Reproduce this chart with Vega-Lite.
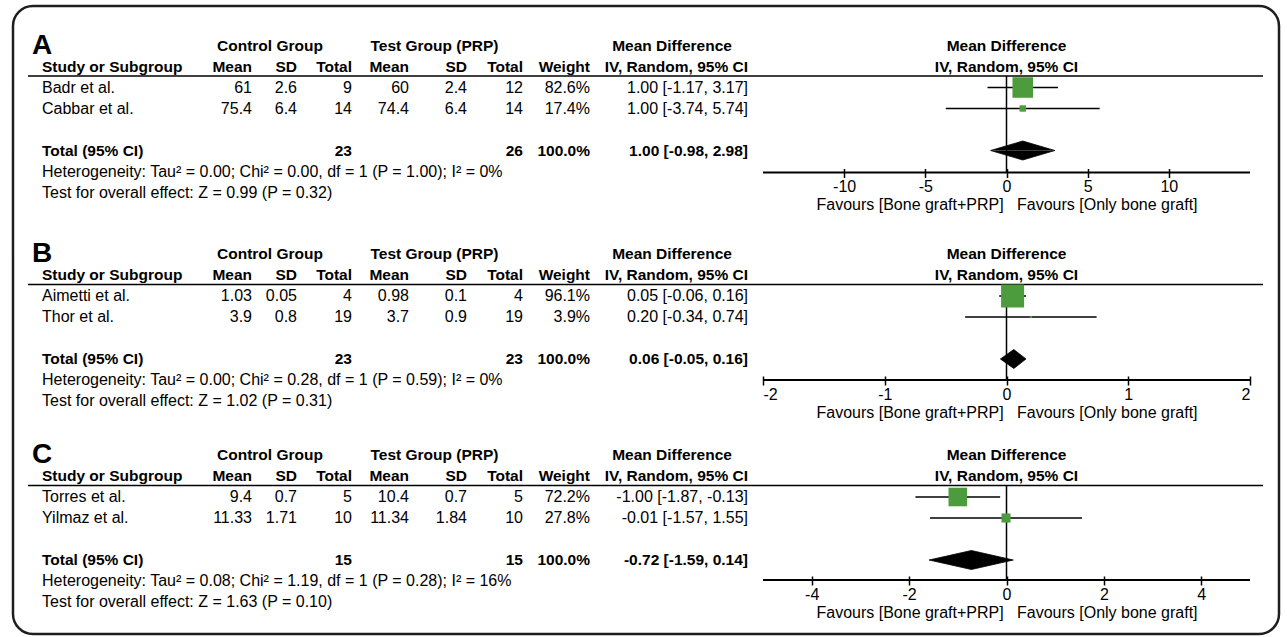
{
"$schema":"https://vega.github.io/schema/vega-lite/v6.json",
"width":1266,"height":628,
"autosize":{"type":"none"},
"padding":{"left":13,"top":6,"right":8,"bottom":3},
"background":"white",
"config":{"view":{"stroke":"#1e1e1e","strokeWidth":2.5,"cornerRadius":20},"text":{"font":"Liberation Sans","color":"#000"},"axis":{"labelFont":"Liberation Sans","titleFont":"Liberation Sans"}},
"datasets":{
"cells":[
{"p":"A","r":0,"c":-1,"k":"letter","t":"A"},
{"p":"A","r":0,"c":9,"k":"group","t":"Control Group"},
{"p":"A","r":0,"c":10,"k":"group","t":"Test Group (PRP)"},
{"p":"A","r":0,"c":11,"k":"group","t":"Mean Difference"},
{"p":"A","r":0,"c":0,"k":"fhead","t":"Mean Difference"},
{"p":"A","r":1,"c":0,"k":"fhead","t":"IV, Random, 95% CI"},
{"p":"A","r":1,"c":0,"k":"head","t":"Study or Subgroup"},
{"p":"A","r":1,"c":1,"k":"head","t":"Mean"},
{"p":"A","r":1,"c":2,"k":"head","t":"SD"},
{"p":"A","r":1,"c":3,"k":"head","t":"Total"},
{"p":"A","r":1,"c":4,"k":"head","t":"Mean"},
{"p":"A","r":1,"c":5,"k":"head","t":"SD"},
{"p":"A","r":1,"c":6,"k":"head","t":"Total"},
{"p":"A","r":1,"c":7,"k":"head","t":"Weight"},
{"p":"A","r":1,"c":8,"k":"head","t":"IV, Random, 95% CI"},
{"p":"A","r":2,"c":0,"k":"study","t":"Badr et al."},
{"p":"A","r":2,"c":1,"k":"study","t":"61"},
{"p":"A","r":2,"c":2,"k":"study","t":"2.6"},
{"p":"A","r":2,"c":3,"k":"study","t":"9"},
{"p":"A","r":2,"c":4,"k":"study","t":"60"},
{"p":"A","r":2,"c":5,"k":"study","t":"2.4"},
{"p":"A","r":2,"c":6,"k":"study","t":"12"},
{"p":"A","r":2,"c":7,"k":"study","t":"82.6%"},
{"p":"A","r":2,"c":8,"k":"study","t":"1.00 [-1.17, 3.17]"},
{"p":"A","r":3,"c":0,"k":"study","t":"Cabbar et al."},
{"p":"A","r":3,"c":1,"k":"study","t":"75.4"},
{"p":"A","r":3,"c":2,"k":"study","t":"6.4"},
{"p":"A","r":3,"c":3,"k":"study","t":"14"},
{"p":"A","r":3,"c":4,"k":"study","t":"74.4"},
{"p":"A","r":3,"c":5,"k":"study","t":"6.4"},
{"p":"A","r":3,"c":6,"k":"study","t":"14"},
{"p":"A","r":3,"c":7,"k":"study","t":"17.4%"},
{"p":"A","r":3,"c":8,"k":"study","t":"1.00 [-3.74, 5.74]"},
{"p":"A","r":5,"c":0,"k":"total","t":"Total (95% CI)"},
{"p":"A","r":5,"c":3,"k":"total","t":"23"},
{"p":"A","r":5,"c":6,"k":"total","t":"26"},
{"p":"A","r":5,"c":7,"k":"total","t":"100.0%"},
{"p":"A","r":5,"c":8,"k":"total","t":"1.00 [-0.98, 2.98]"},
{"p":"A","r":6,"c":0,"k":"note","t":"Heterogeneity: Tau² = 0.00; Chi² = 0.00, df = 1 (P = 1.00); I² = 0%"},
{"p":"A","r":7,"c":0,"k":"note","t":"Test for overall effect: Z = 0.99 (P = 0.32)"},
{"p":"B","r":0,"c":-1,"k":"letter","t":"B"},
{"p":"B","r":0,"c":9,"k":"group","t":"Control Group"},
{"p":"B","r":0,"c":10,"k":"group","t":"Test Group (PRP)"},
{"p":"B","r":0,"c":11,"k":"group","t":"Mean Difference"},
{"p":"B","r":0,"c":0,"k":"fhead","t":"Mean Difference"},
{"p":"B","r":1,"c":0,"k":"fhead","t":"IV, Random, 95% CI"},
{"p":"B","r":1,"c":0,"k":"head","t":"Study or Subgroup"},
{"p":"B","r":1,"c":1,"k":"head","t":"Mean"},
{"p":"B","r":1,"c":2,"k":"head","t":"SD"},
{"p":"B","r":1,"c":3,"k":"head","t":"Total"},
{"p":"B","r":1,"c":4,"k":"head","t":"Mean"},
{"p":"B","r":1,"c":5,"k":"head","t":"SD"},
{"p":"B","r":1,"c":6,"k":"head","t":"Total"},
{"p":"B","r":1,"c":7,"k":"head","t":"Weight"},
{"p":"B","r":1,"c":8,"k":"head","t":"IV, Random, 95% CI"},
{"p":"B","r":2,"c":0,"k":"study","t":"Aimetti et al."},
{"p":"B","r":2,"c":1,"k":"study","t":"1.03"},
{"p":"B","r":2,"c":2,"k":"study","t":"0.05"},
{"p":"B","r":2,"c":3,"k":"study","t":"4"},
{"p":"B","r":2,"c":4,"k":"study","t":"0.98"},
{"p":"B","r":2,"c":5,"k":"study","t":"0.1"},
{"p":"B","r":2,"c":6,"k":"study","t":"4"},
{"p":"B","r":2,"c":7,"k":"study","t":"96.1%"},
{"p":"B","r":2,"c":8,"k":"study","t":"0.05 [-0.06, 0.16]"},
{"p":"B","r":3,"c":0,"k":"study","t":"Thor et al."},
{"p":"B","r":3,"c":1,"k":"study","t":"3.9"},
{"p":"B","r":3,"c":2,"k":"study","t":"0.8"},
{"p":"B","r":3,"c":3,"k":"study","t":"19"},
{"p":"B","r":3,"c":4,"k":"study","t":"3.7"},
{"p":"B","r":3,"c":5,"k":"study","t":"0.9"},
{"p":"B","r":3,"c":6,"k":"study","t":"19"},
{"p":"B","r":3,"c":7,"k":"study","t":"3.9%"},
{"p":"B","r":3,"c":8,"k":"study","t":"0.20 [-0.34, 0.74]"},
{"p":"B","r":5,"c":0,"k":"total","t":"Total (95% CI)"},
{"p":"B","r":5,"c":3,"k":"total","t":"23"},
{"p":"B","r":5,"c":6,"k":"total","t":"23"},
{"p":"B","r":5,"c":7,"k":"total","t":"100.0%"},
{"p":"B","r":5,"c":8,"k":"total","t":"0.06 [-0.05, 0.16]"},
{"p":"B","r":6,"c":0,"k":"note","t":"Heterogeneity: Tau² = 0.00; Chi² = 0.28, df = 1 (P = 0.59); I² = 0%"},
{"p":"B","r":7,"c":0,"k":"note","t":"Test for overall effect: Z = 1.02 (P = 0.31)"},
{"p":"C","r":0,"c":-1,"k":"letter","t":"C"},
{"p":"C","r":0,"c":9,"k":"group","t":"Control Group"},
{"p":"C","r":0,"c":10,"k":"group","t":"Test Group (PRP)"},
{"p":"C","r":0,"c":11,"k":"group","t":"Mean Difference"},
{"p":"C","r":0,"c":0,"k":"fhead","t":"Mean Difference"},
{"p":"C","r":1,"c":0,"k":"fhead","t":"IV, Random, 95% CI"},
{"p":"C","r":1,"c":0,"k":"head","t":"Study or Subgroup"},
{"p":"C","r":1,"c":1,"k":"head","t":"Mean"},
{"p":"C","r":1,"c":2,"k":"head","t":"SD"},
{"p":"C","r":1,"c":3,"k":"head","t":"Total"},
{"p":"C","r":1,"c":4,"k":"head","t":"Mean"},
{"p":"C","r":1,"c":5,"k":"head","t":"SD"},
{"p":"C","r":1,"c":6,"k":"head","t":"Total"},
{"p":"C","r":1,"c":7,"k":"head","t":"Weight"},
{"p":"C","r":1,"c":8,"k":"head","t":"IV, Random, 95% CI"},
{"p":"C","r":2,"c":0,"k":"study","t":"Torres et al."},
{"p":"C","r":2,"c":1,"k":"study","t":"9.4"},
{"p":"C","r":2,"c":2,"k":"study","t":"0.7"},
{"p":"C","r":2,"c":3,"k":"study","t":"5"},
{"p":"C","r":2,"c":4,"k":"study","t":"10.4"},
{"p":"C","r":2,"c":5,"k":"study","t":"0.7"},
{"p":"C","r":2,"c":6,"k":"study","t":"5"},
{"p":"C","r":2,"c":7,"k":"study","t":"72.2%"},
{"p":"C","r":2,"c":8,"k":"study","t":"-1.00 [-1.87, -0.13]"},
{"p":"C","r":3,"c":0,"k":"study","t":"Yilmaz et al."},
{"p":"C","r":3,"c":1,"k":"study","t":"11.33"},
{"p":"C","r":3,"c":2,"k":"study","t":"1.71"},
{"p":"C","r":3,"c":3,"k":"study","t":"10"},
{"p":"C","r":3,"c":4,"k":"study","t":"11.34"},
{"p":"C","r":3,"c":5,"k":"study","t":"1.84"},
{"p":"C","r":3,"c":6,"k":"study","t":"10"},
{"p":"C","r":3,"c":7,"k":"study","t":"27.8%"},
{"p":"C","r":3,"c":8,"k":"study","t":"-0.01 [-1.57, 1.55]"},
{"p":"C","r":5,"c":0,"k":"total","t":"Total (95% CI)"},
{"p":"C","r":5,"c":3,"k":"total","t":"15"},
{"p":"C","r":5,"c":6,"k":"total","t":"15"},
{"p":"C","r":5,"c":7,"k":"total","t":"100.0%"},
{"p":"C","r":5,"c":8,"k":"total","t":"-0.72 [-1.59, 0.14]"},
{"p":"C","r":6,"c":0,"k":"note","t":"Heterogeneity: Tau² = 0.08; Chi² = 1.19, df = 1 (P = 0.28); I² = 16%"},
{"p":"C","r":7,"c":0,"k":"note","t":"Test for overall effect: Z = 1.63 (P = 0.10)"}
],
"studies":[
{"p":"A","r":2,"md":1.00,"lo":-1.17,"hi":3.17,"w":82.6},
{"p":"A","r":3,"md":1.00,"lo":-3.74,"hi":5.74,"w":17.4},
{"p":"B","r":2,"md":0.05,"lo":-0.06,"hi":0.16,"w":96.1},
{"p":"B","r":3,"md":0.20,"lo":-0.34,"hi":0.74,"w":3.9},
{"p":"C","r":2,"md":-1.00,"lo":-1.87,"hi":-0.13,"w":72.2},
{"p":"C","r":3,"md":-0.01,"lo":-1.57,"hi":1.55,"w":27.8}
],
"totals":[
{"p":"A","r":5,"md":1.00,"lo":-0.98,"hi":2.98},
{"p":"B","r":5,"md":0.06,"lo":-0.05,"hi":0.16},
{"p":"C","r":5,"md":-0.72,"lo":-1.59,"hi":0.14}
]
},
"layer":[
{"data":{"name":"cells"},"transform":[{"filter":"datum.p == 'A'"}],
"encoding":{"x":{"field":"c","type":"quantitative","scale":{"domain":[-2,-1,0,1,2,3,4,5,6,7,8,9,10,11,12],"range":[15,19,29,239,284,339,396,454,510,577,735,257,421.5,659,1250],"nice":false,"zero":false},"axis":null},"y":{"field":"r","type":"quantitative","scale":{"domain":[-1.881,28.0238],"reverse":true,"nice":false,"zero":false},"axis":null},"text":{"field":"t"}},
"layer":[
{"transform":[{"filter":"datum.k == 'letter'"}],"mark":{"type":"text","align":"left","baseline":"middle","fontSize":28,"fontWeight":"bold"}},
{"transform":[{"filter":"datum.c == 0 && (datum.k == 'study' || datum.k == 'note')"}],"mark":{"type":"text","align":"left","baseline":"middle","fontSize":16}},
{"transform":[{"filter":"datum.c == 0 && (datum.k == 'head' || datum.k == 'total')"}],"mark":{"type":"text","align":"left","baseline":"middle","fontSize":15.5,"fontWeight":"bold"}},
{"transform":[{"filter":"datum.c >= 1 && datum.c <= 8 && datum.k == 'study'"}],"mark":{"type":"text","align":"right","baseline":"middle","fontSize":16}},
{"transform":[{"filter":"datum.c >= 1 && datum.c <= 8 && (datum.k == 'head' || datum.k == 'total')"}],"mark":{"type":"text","align":"right","baseline":"middle","fontSize":15.5,"fontWeight":"bold"}},
{"transform":[{"filter":"datum.k == 'group'"}],"mark":{"type":"text","align":"center","baseline":"middle","fontSize":15.5,"fontWeight":"bold"}}
]},
{"data":{"values":[{}]},"mark":{"type":"rule","strokeWidth":1.5,"color":"#000"},
"encoding":{"x":{"datum":-2,"type":"quantitative","scale":{"domain":[-2,-1,0,1,2,3,4,5,6,7,8,9,10,11,12],"range":[15,19,29,239,284,339,396,454,510,577,735,257,421.5,659,1250],"nice":false,"zero":false},"axis":null},"x2":{"datum":12},"y":{"datum":1.45,"type":"quantitative","scale":{"domain":[-1.881,28.0238],"reverse":true,"nice":false,"zero":false},"axis":null}}},
{"data":{"values":[{}]},"mark":{"type":"rule","strokeWidth":1.5,"color":"#000"},
"encoding":{"x":{"datum":0,"type":"quantitative","scale":{"domain":[-15,15],"range":[750,1237],"nice":false,"zero":false},"axis":null},"y":{"datum":1.45,"type":"quantitative","scale":{"domain":[-1.881,28.0238],"reverse":true,"nice":false,"zero":false},"axis":null},"y2":{"datum":6.05}}},
{"data":{"values":[{}]},"mark":{"type":"rule","strokeWidth":2,"color":"#000"},
"encoding":{"x":{"datum":-15,"type":"quantitative","scale":{"domain":[-15,15],"range":[750,1237],"nice":false,"zero":false},
"axis":{"orient":"bottom","offset":-465.5,"values":[-10,-5,0,5,10],"domain":false,"grid":false,"ticks":true,"tickSize":9,"tickWidth":1.5,"tickColor":"#000","labelFontSize":16,"labelColor":"#000","labelPadding":1,"labelExpr":"'' + datum.value","labelFlush":true,"labelOverlap":false,"title":"Favours [Bone graft+PRP]\u00a0\u00a0\u00a0Favours [Only bone graft]","titleFontSize":16,"titleFontWeight":"normal","titleColor":"#000","titlePadding":2}},
"x2":{"datum":15},"y":{"datum":6.05,"type":"quantitative","scale":{"domain":[-1.881,28.0238],"reverse":true,"nice":false,"zero":false},"axis":null}}},
{"data":{"name":"cells"},"transform":[{"filter":"datum.p == 'A' && datum.k == 'fhead'"}],"mark":{"type":"text","align":"center","baseline":"middle","fontSize":15.5,"fontWeight":"bold"},
"encoding":{"x":{"datum":0,"type":"quantitative","scale":{"domain":[-15,15],"range":[750,1237],"nice":false,"zero":false},"axis":null},"y":{"field":"r","type":"quantitative","scale":{"domain":[-1.881,28.0238],"reverse":true,"nice":false,"zero":false},"axis":null},"text":{"field":"t"}}},
{"data":{"name":"studies"},"transform":[{"filter":"datum.p == 'A'"}],"mark":{"type":"rule","strokeWidth":1.5,"color":"#000"},
"encoding":{"x":{"field":"lo","type":"quantitative","scale":{"domain":[-15,15],"range":[750,1237],"nice":false,"zero":false},"axis":null},"x2":{"field":"hi"},"y":{"field":"r","type":"quantitative","scale":{"domain":[-1.881,28.0238],"reverse":true,"nice":false,"zero":false},"axis":null}}},
{"data":{"name":"studies"},"transform":[{"filter":"datum.p == 'A'"}],"mark":{"type":"point","shape":"square","filled":true,"color":"#4c9b3d","opacity":1,"strokeWidth":0},
"encoding":{"x":{"field":"md","type":"quantitative","scale":{"domain":[-15,15],"range":[750,1237],"nice":false,"zero":false},"axis":null},"y":{"field":"r","type":"quantitative","scale":{"domain":[-1.881,28.0238],"reverse":true,"nice":false,"zero":false},"axis":null},"size":{"field":"w","type":"quantitative","scale":{"type":"pow","exponent":1.5,"domain":[0,100],"range":[0,562]},"legend":null}}},
{"data":{"name":"totals"},"transform":[{"filter":"datum.p == 'A'"},{"fold":["lo","md","hi"],"as":["part","v"]}],
"mark":{"type":"line","fill":"#000","stroke":"#000","strokeWidth":0.8,"yOffset":{"expr":"datum.part == 'md' ? -9.5 : 0"}},
"encoding":{"x":{"field":"v","type":"quantitative","scale":{"domain":[-15,15],"range":[750,1237],"nice":false,"zero":false},"axis":null},"y":{"field":"r","type":"quantitative","scale":{"domain":[-1.881,28.0238],"reverse":true,"nice":false,"zero":false},"axis":null},"order":{"field":"v","type":"quantitative"}}},
{"data":{"name":"totals"},"transform":[{"filter":"datum.p == 'A'"},{"fold":["lo","md","hi"],"as":["part","v"]}],
"mark":{"type":"line","fill":"#000","stroke":"#000","strokeWidth":0.8,"yOffset":{"expr":"datum.part == 'md' ? 9.5 : 0"}},
"encoding":{"x":{"field":"v","type":"quantitative","scale":{"domain":[-15,15],"range":[750,1237],"nice":false,"zero":false},"axis":null},"y":{"field":"r","type":"quantitative","scale":{"domain":[-1.881,28.0238],"reverse":true,"nice":false,"zero":false},"axis":null},"order":{"field":"v","type":"quantitative"}}},

{"data":{"name":"cells"},"transform":[{"filter":"datum.p == 'B'"}],
"encoding":{"x":{"field":"c","type":"quantitative","scale":{"domain":[-2,-1,0,1,2,3,4,5,6,7,8,9,10,11,12],"range":[15,19,29,239,284,339,396,454,510,577,735,257,421.5,659,1250],"nice":false,"zero":false},"axis":null},"y":{"field":"r","type":"quantitative","scale":{"domain":[-11.8095,18.0953],"reverse":true,"nice":false,"zero":false},"axis":null},"text":{"field":"t"}},
"layer":[
{"transform":[{"filter":"datum.k == 'letter'"}],"mark":{"type":"text","align":"left","baseline":"middle","fontSize":28,"fontWeight":"bold"}},
{"transform":[{"filter":"datum.c == 0 && (datum.k == 'study' || datum.k == 'note')"}],"mark":{"type":"text","align":"left","baseline":"middle","fontSize":16}},
{"transform":[{"filter":"datum.c == 0 && (datum.k == 'head' || datum.k == 'total')"}],"mark":{"type":"text","align":"left","baseline":"middle","fontSize":15.5,"fontWeight":"bold"}},
{"transform":[{"filter":"datum.c >= 1 && datum.c <= 8 && datum.k == 'study'"}],"mark":{"type":"text","align":"right","baseline":"middle","fontSize":16}},
{"transform":[{"filter":"datum.c >= 1 && datum.c <= 8 && (datum.k == 'head' || datum.k == 'total')"}],"mark":{"type":"text","align":"right","baseline":"middle","fontSize":15.5,"fontWeight":"bold"}},
{"transform":[{"filter":"datum.k == 'group'"}],"mark":{"type":"text","align":"center","baseline":"middle","fontSize":15.5,"fontWeight":"bold"}}
]},
{"data":{"values":[{}]},"mark":{"type":"rule","strokeWidth":1.5,"color":"#000"},
"encoding":{"x":{"datum":-2,"type":"quantitative","scale":{"domain":[-2,-1,0,1,2,3,4,5,6,7,8,9,10,11,12],"range":[15,19,29,239,284,339,396,454,510,577,735,257,421.5,659,1250],"nice":false,"zero":false},"axis":null},"x2":{"datum":12},"y":{"datum":1.45,"type":"quantitative","scale":{"domain":[-11.8095,18.0953],"reverse":true,"nice":false,"zero":false},"axis":null}}},
{"data":{"values":[{}]},"mark":{"type":"rule","strokeWidth":1.5,"color":"#000"},
"encoding":{"x":{"datum":0,"type":"quantitative","scale":{"domain":[-2,2],"range":[750,1237],"nice":false,"zero":false},"axis":null},"y":{"datum":1.45,"type":"quantitative","scale":{"domain":[-11.8095,18.0953],"reverse":true,"nice":false,"zero":false},"axis":null},"y2":{"datum":6.0}}},
{"data":{"values":[{}]},"mark":{"type":"rule","strokeWidth":2,"color":"#000"},
"encoding":{"x":{"datum":-2,"type":"quantitative","scale":{"domain":[-2,2],"range":[750,1237],"nice":false,"zero":false},
"axis":{"orient":"bottom","offset":-258,"values":[-2,-1,0,1,2],"domain":false,"grid":false,"ticks":true,"tickSize":9,"tickWidth":1.5,"tickColor":"#000","labelFontSize":16,"labelColor":"#000","labelPadding":1,"labelExpr":"'' + datum.value","labelFlush":true,"labelOverlap":false,"title":"Favours [Bone graft+PRP]\u00a0\u00a0\u00a0Favours [Only bone graft]","titleFontSize":16,"titleFontWeight":"normal","titleColor":"#000","titlePadding":2}},
"x2":{"datum":2},"y":{"datum":6.0,"type":"quantitative","scale":{"domain":[-11.8095,18.0953],"reverse":true,"nice":false,"zero":false},"axis":null}}},
{"data":{"name":"cells"},"transform":[{"filter":"datum.p == 'B' && datum.k == 'fhead'"}],"mark":{"type":"text","align":"center","baseline":"middle","fontSize":15.5,"fontWeight":"bold"},
"encoding":{"x":{"datum":0,"type":"quantitative","scale":{"domain":[-2,2],"range":[750,1237],"nice":false,"zero":false},"axis":null},"y":{"field":"r","type":"quantitative","scale":{"domain":[-11.8095,18.0953],"reverse":true,"nice":false,"zero":false},"axis":null},"text":{"field":"t"}}},
{"data":{"name":"studies"},"transform":[{"filter":"datum.p == 'B'"}],"mark":{"type":"rule","strokeWidth":1.5,"color":"#000"},
"encoding":{"x":{"field":"lo","type":"quantitative","scale":{"domain":[-2,2],"range":[750,1237],"nice":false,"zero":false},"axis":null},"x2":{"field":"hi"},"y":{"field":"r","type":"quantitative","scale":{"domain":[-11.8095,18.0953],"reverse":true,"nice":false,"zero":false},"axis":null}}},
{"data":{"name":"studies"},"transform":[{"filter":"datum.p == 'B'"}],"mark":{"type":"point","shape":"square","filled":true,"color":"#4c9b3d","opacity":1,"strokeWidth":0},
"encoding":{"x":{"field":"md","type":"quantitative","scale":{"domain":[-2,2],"range":[750,1237],"nice":false,"zero":false},"axis":null},"y":{"field":"r","type":"quantitative","scale":{"domain":[-11.8095,18.0953],"reverse":true,"nice":false,"zero":false},"axis":null},"size":{"field":"w","type":"quantitative","scale":{"type":"pow","exponent":1.5,"domain":[0,100],"range":[0,562]},"legend":null}}},
{"data":{"name":"totals"},"transform":[{"filter":"datum.p == 'B'"},{"fold":["lo","md","hi"],"as":["part","v"]}],
"mark":{"type":"line","fill":"#000","stroke":"#000","strokeWidth":0.8,"yOffset":{"expr":"datum.part == 'md' ? -9.5 : 0"}},
"encoding":{"x":{"field":"v","type":"quantitative","scale":{"domain":[-2,2],"range":[750,1237],"nice":false,"zero":false},"axis":null},"y":{"field":"r","type":"quantitative","scale":{"domain":[-11.8095,18.0953],"reverse":true,"nice":false,"zero":false},"axis":null},"order":{"field":"v","type":"quantitative"}}},
{"data":{"name":"totals"},"transform":[{"filter":"datum.p == 'B'"},{"fold":["lo","md","hi"],"as":["part","v"]}],
"mark":{"type":"line","fill":"#000","stroke":"#000","strokeWidth":0.8,"yOffset":{"expr":"datum.part == 'md' ? 9.5 : 0"}},
"encoding":{"x":{"field":"v","type":"quantitative","scale":{"domain":[-2,2],"range":[750,1237],"nice":false,"zero":false},"axis":null},"y":{"field":"r","type":"quantitative","scale":{"domain":[-11.8095,18.0953],"reverse":true,"nice":false,"zero":false},"axis":null},"order":{"field":"v","type":"quantitative"}}},

{"data":{"name":"cells"},"transform":[{"filter":"datum.p == 'C'"}],
"encoding":{"x":{"field":"c","type":"quantitative","scale":{"domain":[-2,-1,0,1,2,3,4,5,6,7,8,9,10,11,12],"range":[15,19,29,239,284,339,396,454,510,577,735,257,421.5,659,1250],"nice":false,"zero":false},"axis":null},"y":{"field":"r","type":"quantitative","scale":{"domain":[-21.381,8.5238],"reverse":true,"nice":false,"zero":false},"axis":null},"text":{"field":"t"}},
"layer":[
{"transform":[{"filter":"datum.k == 'letter'"}],"mark":{"type":"text","align":"left","baseline":"middle","fontSize":28,"fontWeight":"bold"}},
{"transform":[{"filter":"datum.c == 0 && (datum.k == 'study' || datum.k == 'note')"}],"mark":{"type":"text","align":"left","baseline":"middle","fontSize":16}},
{"transform":[{"filter":"datum.c == 0 && (datum.k == 'head' || datum.k == 'total')"}],"mark":{"type":"text","align":"left","baseline":"middle","fontSize":15.5,"fontWeight":"bold"}},
{"transform":[{"filter":"datum.c >= 1 && datum.c <= 8 && datum.k == 'study'"}],"mark":{"type":"text","align":"right","baseline":"middle","fontSize":16}},
{"transform":[{"filter":"datum.c >= 1 && datum.c <= 8 && (datum.k == 'head' || datum.k == 'total')"}],"mark":{"type":"text","align":"right","baseline":"middle","fontSize":15.5,"fontWeight":"bold"}},
{"transform":[{"filter":"datum.k == 'group'"}],"mark":{"type":"text","align":"center","baseline":"middle","fontSize":15.5,"fontWeight":"bold"}}
]},
{"data":{"values":[{}]},"mark":{"type":"rule","strokeWidth":1.5,"color":"#000"},
"encoding":{"x":{"datum":-2,"type":"quantitative","scale":{"domain":[-2,-1,0,1,2,3,4,5,6,7,8,9,10,11,12],"range":[15,19,29,239,284,339,396,454,510,577,735,257,421.5,659,1250],"nice":false,"zero":false},"axis":null},"x2":{"datum":12},"y":{"datum":1.45,"type":"quantitative","scale":{"domain":[-21.381,8.5238],"reverse":true,"nice":false,"zero":false},"axis":null}}},
{"data":{"values":[{}]},"mark":{"type":"rule","strokeWidth":1.5,"color":"#000"},
"encoding":{"x":{"datum":0,"type":"quantitative","scale":{"domain":[-5,5],"range":[750,1237],"nice":false,"zero":false},"axis":null},"y":{"datum":1.45,"type":"quantitative","scale":{"domain":[-21.381,8.5238],"reverse":true,"nice":false,"zero":false},"axis":null},"y2":{"datum":5.95}}},
{"data":{"values":[{}]},"mark":{"type":"rule","strokeWidth":2,"color":"#000"},
"encoding":{"x":{"datum":-5,"type":"quantitative","scale":{"domain":[-5,5],"range":[750,1237],"nice":false,"zero":false},
"axis":{"orient":"bottom","offset":-58,"values":[-4,-2,0,2,4],"domain":false,"grid":false,"ticks":true,"tickSize":9,"tickWidth":1.5,"tickColor":"#000","labelFontSize":16,"labelColor":"#000","labelPadding":1,"labelExpr":"'' + datum.value","labelFlush":true,"labelOverlap":false,"title":"Favours [Bone graft+PRP]\u00a0\u00a0\u00a0Favours [Only bone graft]","titleFontSize":16,"titleFontWeight":"normal","titleColor":"#000","titlePadding":2}},
"x2":{"datum":5},"y":{"datum":5.95,"type":"quantitative","scale":{"domain":[-21.381,8.5238],"reverse":true,"nice":false,"zero":false},"axis":null}}},
{"data":{"name":"cells"},"transform":[{"filter":"datum.p == 'C' && datum.k == 'fhead'"}],"mark":{"type":"text","align":"center","baseline":"middle","fontSize":15.5,"fontWeight":"bold"},
"encoding":{"x":{"datum":0,"type":"quantitative","scale":{"domain":[-5,5],"range":[750,1237],"nice":false,"zero":false},"axis":null},"y":{"field":"r","type":"quantitative","scale":{"domain":[-21.381,8.5238],"reverse":true,"nice":false,"zero":false},"axis":null},"text":{"field":"t"}}},
{"data":{"name":"studies"},"transform":[{"filter":"datum.p == 'C'"}],"mark":{"type":"rule","strokeWidth":1.5,"color":"#000"},
"encoding":{"x":{"field":"lo","type":"quantitative","scale":{"domain":[-5,5],"range":[750,1237],"nice":false,"zero":false},"axis":null},"x2":{"field":"hi"},"y":{"field":"r","type":"quantitative","scale":{"domain":[-21.381,8.5238],"reverse":true,"nice":false,"zero":false},"axis":null}}},
{"data":{"name":"studies"},"transform":[{"filter":"datum.p == 'C'"}],"mark":{"type":"point","shape":"square","filled":true,"color":"#4c9b3d","opacity":1,"strokeWidth":0},
"encoding":{"x":{"field":"md","type":"quantitative","scale":{"domain":[-5,5],"range":[750,1237],"nice":false,"zero":false},"axis":null},"y":{"field":"r","type":"quantitative","scale":{"domain":[-21.381,8.5238],"reverse":true,"nice":false,"zero":false},"axis":null},"size":{"field":"w","type":"quantitative","scale":{"type":"pow","exponent":1.5,"domain":[0,100],"range":[0,562]},"legend":null}}},
{"data":{"name":"totals"},"transform":[{"filter":"datum.p == 'C'"},{"fold":["lo","md","hi"],"as":["part","v"]}],
"mark":{"type":"line","fill":"#000","stroke":"#000","strokeWidth":0.8,"yOffset":{"expr":"datum.part == 'md' ? -9.5 : 0"}},
"encoding":{"x":{"field":"v","type":"quantitative","scale":{"domain":[-5,5],"range":[750,1237],"nice":false,"zero":false},"axis":null},"y":{"field":"r","type":"quantitative","scale":{"domain":[-21.381,8.5238],"reverse":true,"nice":false,"zero":false},"axis":null},"order":{"field":"v","type":"quantitative"}}},
{"data":{"name":"totals"},"transform":[{"filter":"datum.p == 'C'"},{"fold":["lo","md","hi"],"as":["part","v"]}],
"mark":{"type":"line","fill":"#000","stroke":"#000","strokeWidth":0.8,"yOffset":{"expr":"datum.part == 'md' ? 9.5 : 0"}},
"encoding":{"x":{"field":"v","type":"quantitative","scale":{"domain":[-5,5],"range":[750,1237],"nice":false,"zero":false},"axis":null},"y":{"field":"r","type":"quantitative","scale":{"domain":[-21.381,8.5238],"reverse":true,"nice":false,"zero":false},"axis":null},"order":{"field":"v","type":"quantitative"}}}
],
"resolve":{"scale":{"x":"independent","y":"independent"}}
}
